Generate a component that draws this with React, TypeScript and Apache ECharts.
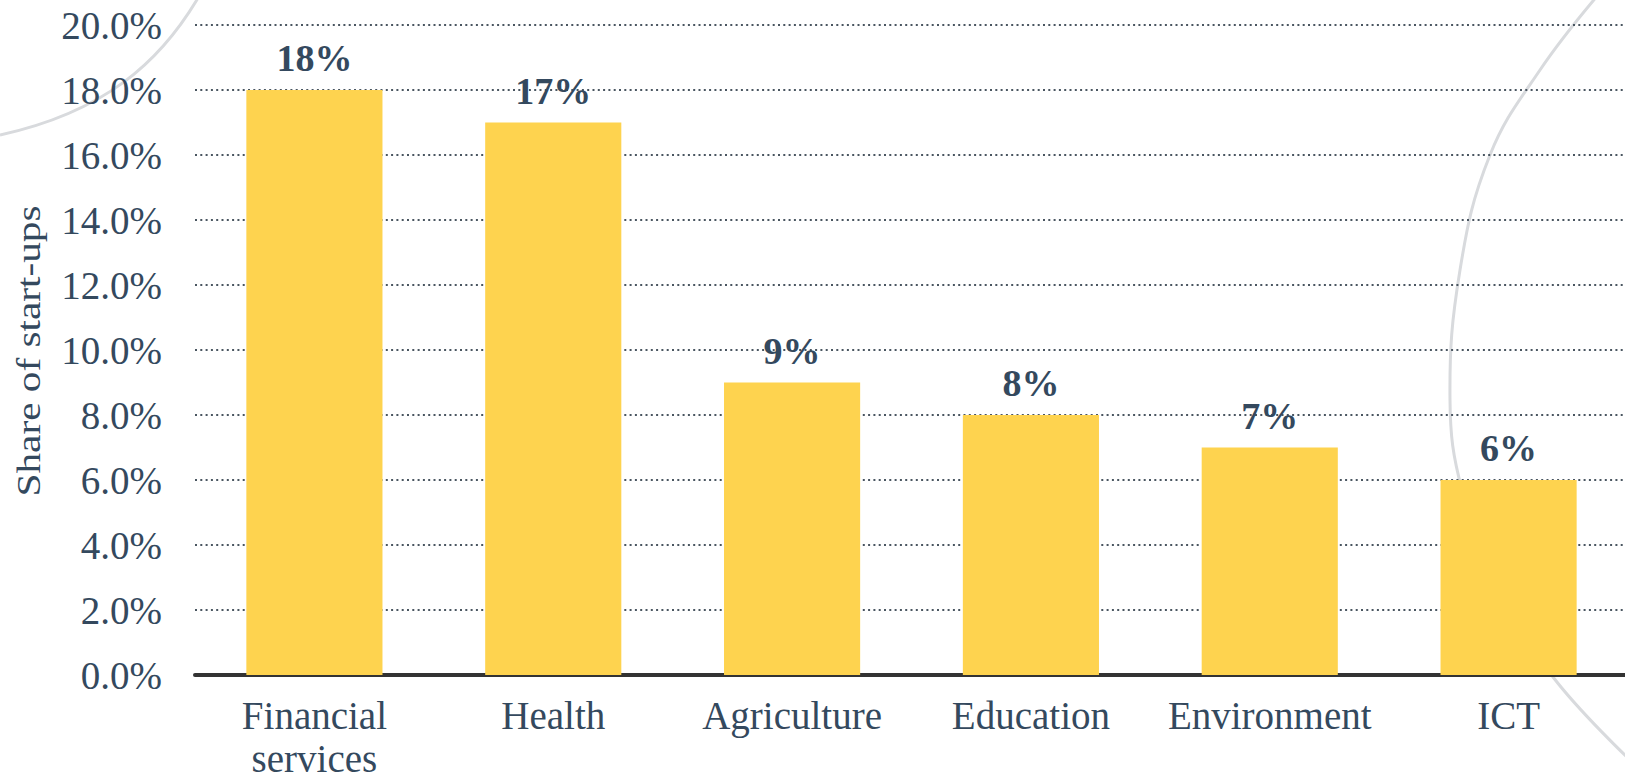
import React, { useEffect, useRef } from "react";
import * as echarts from "echarts";

const categories = ["Financial\nservices", "Health", "Agriculture", "Education", "Environment", "ICT"];
const shares = [0.18, 0.17, 0.09, 0.08, 0.07, 0.06];
const yTicks = { min: 0, max: 0.2, interval: 0.02 };
const yAxisTitle = "Share of start-ups";

const TEXT = "#34495e";
const FONT = "Liberation Serif";

export default function App() {
  const ref = useRef<HTMLDivElement>(null);
  useEffect(() => {
    if (!ref.current) return;
    const chart = echarts.init(ref.current, undefined, { renderer: "svg" });
    chart.setOption({
      animation: false,
      backgroundColor: "#ffffff",
      grid: {
        left: 195,
        right: -3,
        top: 25,
        bottom: 104,
        containLabel: false,
        outerBoundsMode: "none",
      },
      xAxis: {
        type: "category",
        data: categories,
        axisTick: { show: false },
        axisLine: { show: true, lineStyle: { color: "#333333", width: 4 } },
        axisLabel: {
          color: TEXT,
          fontFamily: FONT,
          fontSize: 39,
          lineHeight: 43,
          margin: 19,
          interval: 0,
        },
        splitLine: { show: false },
      },
      yAxis: {
        type: "value",
        min: yTicks.min,
        max: yTicks.max,
        interval: yTicks.interval,
        axisLine: { show: false },
        axisTick: { show: false },
        axisLabel: {
          color: TEXT,
          fontFamily: FONT,
          fontSize: 39,
          margin: 33,
          formatter: (v: number) => (v * 100).toFixed(1) + "%",
        },
        splitLine: {
          show: true,
          lineStyle: { color: "#4a5661", width: 2, type: [2, 3.3] },
        },
      },
      graphic: [
        {
          type: "bezierCurve",
          silent: true,
          z: -10,
          shape: { x1: 0, y1: 135, cpx1: 105, cpy1: 112, cpx2: 160, cpy2: 62, x2: 198, y2: -2 },
          style: { stroke: "#d8dadd", lineWidth: 3, fill: "none" },
        },
        {
          type: "polyline",
          silent: true,
          z: -10,
          shape: {
            points: [
              [1598, -5],
              [1540, 70],
              [1490, 155],
              [1460, 270],
              [1450, 400],
              [1462, 490],
              [1500, 590],
              [1553, 677],
              [1630, 760],
            ],
            smooth: 0.4,
          },
          style: { stroke: "#d8dadd", lineWidth: 3, fill: "none" },
        },
        {
          type: "text",
          x: 29,
          y: 351,
          rotation: Math.PI / 2,
          scaleX: 1.25,
          style: {
            text: yAxisTitle,
            fontSize: 33,
            fontFamily: FONT,
            fill: TEXT,
            align: "center",
            verticalAlign: "middle",
          },
        },
      ],
      series: [
        {
          type: "bar",
          data: shares,
          barWidth: "57%",
          itemStyle: { color: "#fed34f" },
          label: {
            show: true,
            position: "top",
            distance: 13,
            color: TEXT,
            fontFamily: FONT,
            fontWeight: "bold",
            fontSize: 38,
            formatter: (p: any) => Math.round(p.value * 100) + "%",
          },
        },
      ],
    });
    return () => chart.dispose();
  }, []);
  return (
    <div
      ref={ref}
      style={{ position: "fixed", left: 0, top: 0, width: 1625, height: 779 }}
    />
  );
}
